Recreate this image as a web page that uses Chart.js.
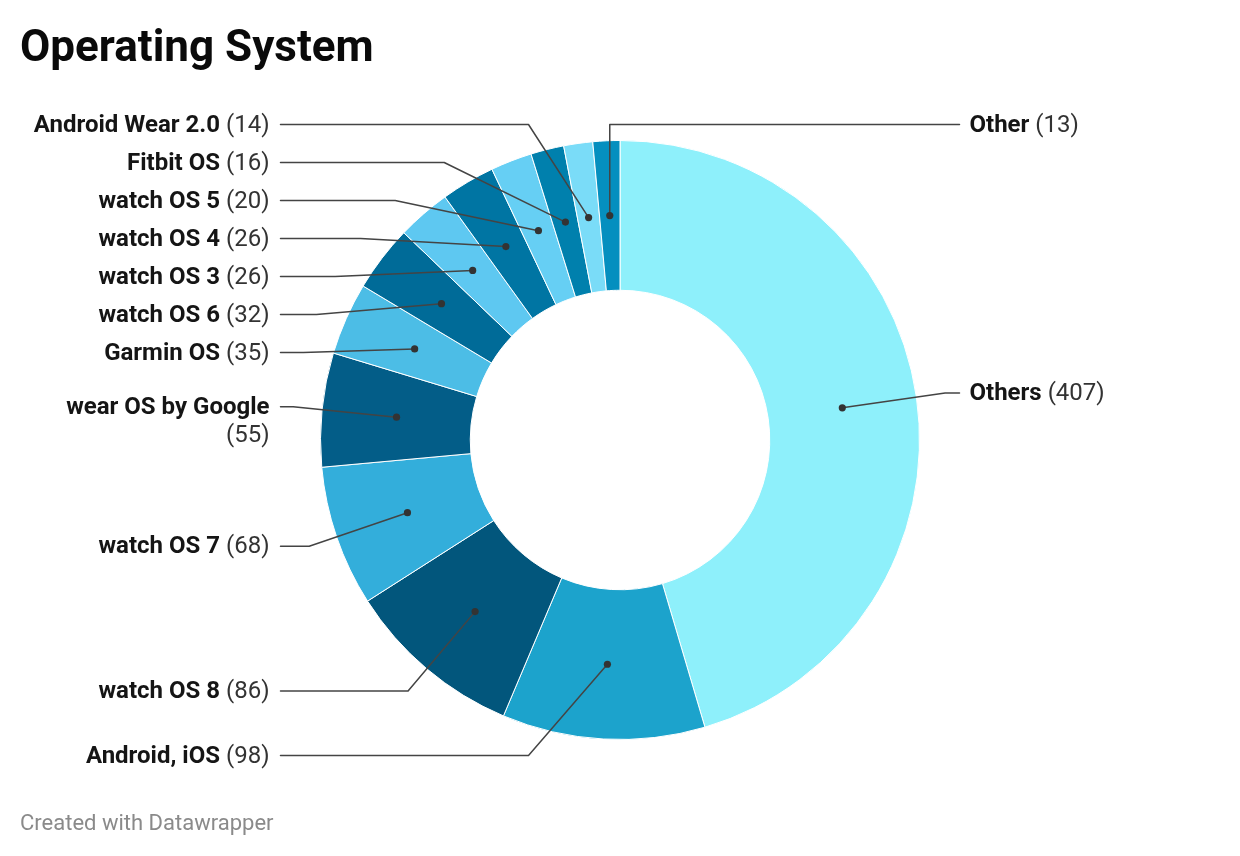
<!DOCTYPE html>
<html><head><meta charset="utf-8">
<script src="https://cdn.jsdelivr.net/npm/chart.js@4/dist/chart.umd.min.js"></script>
<style>
html,body{margin:0;padding:0;background:#fff;width:1240px;height:856px;overflow:hidden;font-family:Roboto,sans-serif}
#wrap{position:absolute;left:0;top:0;width:1240px;height:856px}
#title{position:absolute;left:20px;top:24px;margin:0;font:700 44px/1 Roboto;color:#0a0a0a}
#footer{position:absolute;left:20px;top:812px;font:400 22px/1 Roboto;color:#8a8a8a}
</style></head><body>
<div id="wrap"><canvas id="c"></canvas></div>
<h1 id="title">Operating System</h1>
<div id="footer">Created with Datawrapper</div>
<script>
const categories = ['Others','Android, iOS','watch OS 8','watch OS 7','wear OS by Google','Garmin OS','watch OS 6','watch OS 3','watch OS 4','watch OS 5','Fitbit OS','Android Wear 2.0','Other'];
const values = [407,98,86,68,55,35,32,26,26,20,16,14,13];
const colors = ['#8ef0fb','#1ca3cc','#02567c','#33aedb','#035d88','#4cbde6','#006b98','#5ec8f1','#0075a3','#66cff4','#0080ad','#7adcf8','#058fbf'];
const rightSideLabels = ['Others','Other'];

const LABEL_FONT = 24, LINE_H = 28, GAP = 10;
const boldFont = '700 ' + LABEL_FONT + 'px Roboto';
const regFont = '400 ' + LABEL_FONT + 'px Roboto';

function layoutSide(items, minY, maxY){
  items.sort((a,b)=>a.desired-b.desired);
  let clusters = items.map(it=>({items:[it]}));
  function place(c){
    let off=0,s=0;
    c.items.forEach(it=>{s+=it.desired-off; off+=it.h;});
    c.h=off;
    c.start=s/c.items.length;
    const lastH=c.items[c.items.length-1].h;
    if(c.start<minY) c.start=minY;
    if(c.start+c.h-lastH>maxY) c.start=maxY-(c.h-lastH);
  }
  clusters.forEach(place);
  let merged=true;
  while(merged){
    merged=false;
    for(let i=0;i<clusters.length-1;i++){
      const a=clusters[i],b=clusters[i+1];
      if(a.start+a.h>b.start+0.01){
        a.items=a.items.concat(b.items);
        place(a);
        clusters.splice(i+1,1);
        merged=true;break;
      }
    }
  }
  clusters.forEach(c=>{let y=c.start;c.items.forEach(it=>{it.y=y;y+=it.h;});});
}

const labelPlugin = {
  id:'dwLabels',
  afterDraw(chart){
    const ctx=chart.ctx;
    const meta=chart.getDatasetMeta(0);
    const left=[],right=[];
    let cx=0,cy=0,outerR=0;
    meta.data.forEach((arc,i)=>{
      const p=arc.getProps(['x','y','startAngle','endAngle','innerRadius','outerRadius'],true);
      cx=p.x;cy=p.y;outerR=p.outerRadius;
      const mid=(p.startAngle+p.endAngle)/2;
      const rm=(p.innerRadius+p.outerRadius)/2;
      const name=categories[i], val='('+values[i]+')';
      ctx.font=boldFont; const wn=ctx.measureText(name).width;
      ctx.font=regFont; const wv=ctx.measureText(val).width; const ws=ctx.measureText(' ').width;
      const wrap = wn+ws+wv > 242;
      const it={name,val,wn,wv,ws,wrap,
        dotX:p.x+Math.cos(mid)*rm, dotY:p.y+Math.sin(mid)*rm,
        desired:p.y+Math.sin(mid)*(p.outerRadius+29),
        h:(wrap?2:1)*LINE_H+GAP};
      (rightSideLabels.includes(name)?right:left).push(it);
    });
    const minY=cy-(outerR+16), maxY=cy+(outerR+16);
    layoutSide(left,minY,maxY);
    layoutSide(right,minY,maxY);
    const elbowR=outerR+29;
    ctx.save();
    ctx.strokeStyle='#444';ctx.lineWidth=1.5;ctx.lineJoin='round';ctx.lineCap='round';
    const drawOne=(it,side)=>{
      const dy=it.y-cy;
      const opposite = side>0 ? it.dotX<cx : it.dotX>cx;
      let ex;
      if(opposite) ex=it.dotX;
      else ex=cx+side*Math.sqrt(Math.max(0,elbowR*elbowR-dy*dy));
      const lineStart=cx+side*(outerR+40);
      ctx.beginPath();
      ctx.moveTo(lineStart,it.y);
      ctx.lineTo(ex,it.y);
      ctx.lineTo(it.dotX,it.dotY);
      ctx.stroke();
      ctx.beginPath();ctx.fillStyle='#333';ctx.arc(it.dotX,it.dotY,3.6,0,Math.PI*2);ctx.fill();
      ctx.textBaseline='middle';
      ctx.fillStyle='#151515';
      if(side<0){
        const tx=cx-(outerR+51);
        ctx.textAlign='right';
        if(it.wrap){
          ctx.font=boldFont;ctx.fillText(it.name,tx,it.y+1);
          ctx.font=regFont;ctx.fillStyle='#333';ctx.fillText(it.val,tx,it.y+1+LINE_H);
        } else {
          ctx.font=regFont;ctx.fillStyle='#333';ctx.fillText(it.val,tx,it.y+1);
          ctx.font=boldFont;ctx.fillStyle='#151515';ctx.fillText(it.name,tx-it.wv-it.ws,it.y+1);
        }
      } else {
        const tx=cx+outerR+50;
        ctx.textAlign='left';
        ctx.font=boldFont;ctx.fillText(it.name,tx,it.y+1);
        ctx.font=regFont;ctx.fillStyle='#333';ctx.fillText(it.val,tx+it.wn+it.ws,it.y+1);
      }
    };
    left.forEach(it=>drawOne(it,-1));
    right.forEach(it=>drawOne(it,1));
    ctx.restore();
  }
};

new Chart(document.getElementById('c'),{
  type:'doughnut',
  data:{labels:categories,datasets:[{data:values,backgroundColor:colors,borderColor:'#ffffff',borderWidth:1,hoverOffset:0}]},
  options:{
    responsive:true,maintainAspectRatio:false,animation:false,
    cutout:'50%',
    layout:{padding:{top:140,bottom:116,left:0,right:0}},
    plugins:{legend:{display:false},tooltip:{enabled:false},title:{display:false}},
    events:[]
  },
  plugins:[labelPlugin]
});
</script>
</body></html>
